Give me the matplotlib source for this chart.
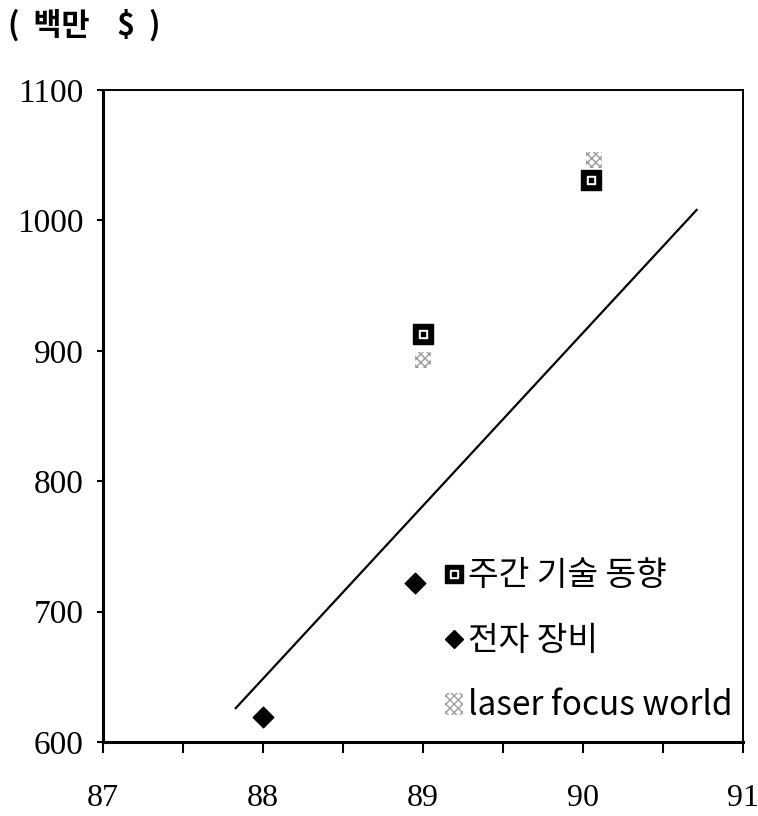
import matplotlib
matplotlib.use("Agg")
import matplotlib.pyplot as plt
import matplotlib.patches as mpatches
from matplotlib.lines import Line2D
from matplotlib.legend_handler import HandlerTuple

# ---- data ----
weekly_x = [89.0, 90.05]          # 주간 기술 동향
weekly_y = [913, 1031]
elec_x = [88.0, 88.95]            # 전자 장비
elec_y = [619, 722]
laser_x = [89.0, 90.07]           # laser focus world
laser_y = [893, 1046]
trend_x = [87.83, 90.71]          # trend line
trend_y = [626, 1008]

x_ticks = [87, 88, 89, 90, 91]
y_ticks = [600, 700, 800, 900, 1000, 1100]

serif = ["Liberation Serif", "DejaVu Serif"]
kr = ["Noto Sans CJK KR", "DejaVu Sans"]

fig = plt.figure(figsize=(7.58, 8.16), dpi=100)
ax = fig.add_axes([103/758, 1-742/816, (743-103)/758, (742-90)/816])
ax.set_xlim(87, 91)
ax.set_ylim(600, 1100)

# trend line
ax.plot(trend_x, trend_y, color="black", lw=1.6)

# 전자 장비 diamonds
ax.scatter(elec_x, elec_y, marker="D", s=110, color="black", zorder=3)

# laser focus world hatched markers
ax.scatter(laser_x, laser_y, marker="s", s=130, facecolor="white",
           edgecolor="#9a9a9a", hatch="xxxx", linewidths=0, zorder=3)

# 주간 기술 동향 squares with dot
ax.scatter(weekly_x, weekly_y, marker="s", s=200, color="black", zorder=4)
ax.scatter(weekly_x, weekly_y, marker="s", s=40, color="white", zorder=5)
ax.scatter(weekly_x, weekly_y, marker="s", s=8, color="black", zorder=6)

# axes styling
ax.set_xticks(x_ticks)
ax.set_xticks([87.5, 88.5, 89.5, 90.5], minor=True)
ax.set_yticks(y_ticks)
ax.tick_params(axis="x", which="both", direction="out", length=8, width=1.5,
               pad=22, labelsize=23)
ax.tick_params(axis="y", which="both", direction="out", length=4, width=1.5,
               pad=10, labelsize=24)
for lab in ax.get_xticklabels() + ax.get_yticklabels():
    lab.set_family(serif)
for side in ["left", "bottom"]:
    ax.spines[side].set_linewidth(2.2)
for side in ["top", "right"]:
    ax.spines[side].set_linewidth(1.4)

# legend
h_weekly = (Line2D([], [], marker="s", ms=13, color="black", ls="none"),
            Line2D([], [], marker="s", ms=6, color="white", ls="none"),
            Line2D([], [], marker="s", ms=2.5, color="black", ls="none"))
h_elec = Line2D([], [], marker="D", ms=9, color="black", ls="none")
h_laser = mpatches.Patch(facecolor="white", edgecolor="#a0a0a0",
                         hatch="xxxx", lw=0)
leg = ax.legend([h_weekly, h_elec, h_laser],
                ["주간 기술 동향", "전자 장비", "laser focus world"],
                handler_map={tuple: HandlerTuple(ndivide=1, pad=0)},
                loc="lower right", bbox_to_anchor=(1.005, 0.008),
                frameon=False, handlelength=0.55, handleheight=0.65,
                handletextpad=0.15, labelspacing=0.9, borderaxespad=0.0,
                prop={"family": kr, "size": 24})

fig.text(8/758, 1-25/816, "(  백만    $  )", family=kr, fontsize=22,
         fontweight="bold", va="center", ha="left")

fig.savefig("out.png", dpi=100)
